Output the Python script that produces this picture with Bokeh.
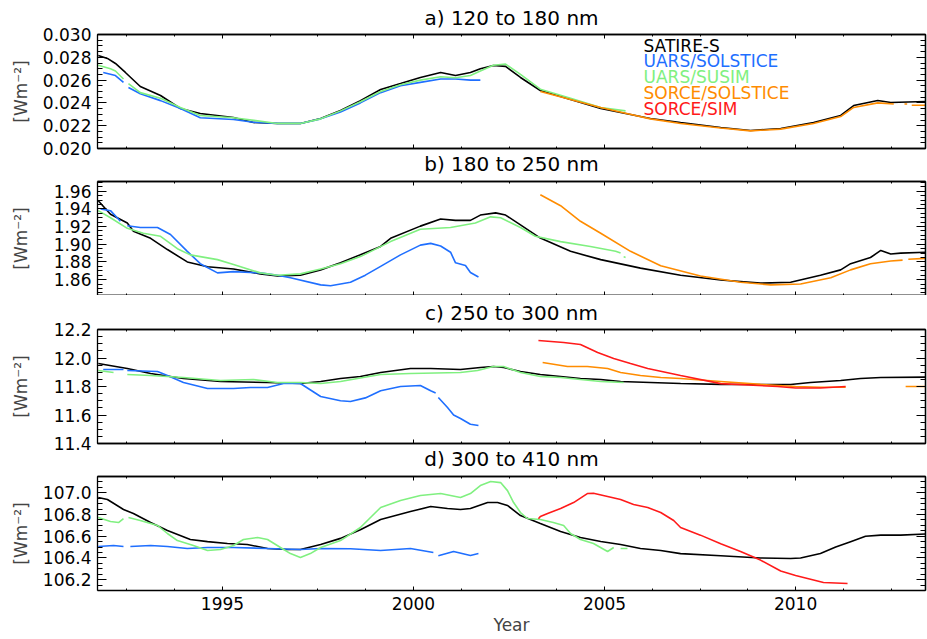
from bokeh.plotting import figure
from bokeh.models import (Range1d, LinearAxis, SingleIntervalTicker, FixedTicker, Label, Title,
                          PrintfTickFormatter)
from bokeh.layouts import column
from bokeh.embed import file_html
from bokeh.resources import INLINE

nan = float("nan")

FONT = "DejaVu Sans"
X_RANGE = (1991.73, 2013.40)
X_TICK_STEP = 5
X_MINOR_STEP = 1.25

NAMES = ["SATIRE-S", "UARS/SOLSTICE", "UARS/SUSIM", "SORCE/SOLSTICE", "SORCE/SIM"]
COLORS = ["#000000", "#1f6fff", "#80f080", "#ff8c00", "#ff1a1a"]

TITLES = ["a) 120 to 180 nm", "b) 180 to 250 nm", "c) 250 to 300 nm", "d) 300 to 410 nm"]
Y_RANGES = [(0.020, 0.030), (1.842, 1.971), (11.4, 12.2), (106.1, 107.15)]
Y_TICKS = [[0.020, 0.022, 0.024, 0.026, 0.028, 0.030],
           [1.86, 1.88, 1.90, 1.92, 1.94, 1.96],
           [11.4, 11.6, 11.8, 12.0, 12.2],
           [106.2, 106.4, 106.6, 106.8, 107.0]]
Y_MINOR_STEP = [0.0005, 0.005, 0.05, 0.05]
Y_FORMATS = ["%.3f", "%.2f", "%.1f", "%.1f"]

# ---------------- panel a: 120-180 nm ----------------
a_satire_x = [1991.75, 1991.99, 1992.20, 1992.46, 1992.85, 1993.38, 1993.90, 1994.42, 1995.29, 1995.81,
              1996.44, 1997.04, 1997.57, 1998.09, 1998.61, 1999.14, 1999.66, 2000.18, 2000.71, 2001.10,
              2001.49, 2001.75, 2002.09, 2002.41, 2002.80, 2003.32, 2004.11, 2004.90, 2005.55, 2006.20,
              2006.99, 2008.04, 2008.82, 2009.61, 2010.47, 2011.18, 2011.52, 2012.15, 2012.49, 2013.40]
a_satire_y = [0.02816, 0.02790, 0.02746, 0.02667, 0.02544, 0.02465, 0.02351, 0.02307, 0.02272, 0.02228,
              0.02219, 0.02219, 0.02263, 0.02333, 0.02420, 0.02518, 0.02570, 0.02623, 0.02667, 0.02640,
              0.02667, 0.02700, 0.02728, 0.02720, 0.02623, 0.02509, 0.02430, 0.02351, 0.02307, 0.02263,
              0.02228, 0.02184, 0.02158, 0.02175, 0.02228, 0.02290, 0.02377, 0.02421, 0.02404, 0.02412]

a_usol_x = [1991.88, 1992.20, 1992.41, 1992.46, 1992.54, 1992.85, 1993.38, 1993.90, 1994.42, 1995.29,
            1995.81, 1996.44, 1997.04, 1997.57, 1998.09, 1998.61, 1999.14, 1999.66, 2000.18, 2000.71,
            2001.10, 2001.49, 2001.75]
a_usol_y = [0.02667, 0.02640, 0.02580, nan, 0.02535, 0.02480, 0.02420, 0.02350, 0.02270, 0.02254,
            0.02230, 0.02220, 0.02220, 0.02260, 0.02320, 0.02400, 0.02490, 0.02550, 0.02580, 0.02610,
            0.02610, 0.02600, 0.02600]

a_susim_x = [1991.75, 1992.07, 1992.20, 1992.41, 1992.46, 1992.54, 1992.85, 1993.38, 1993.90, 1994.42,
             1995.29, 1996.44, 1997.04, 1997.57, 1998.09, 1998.61, 1999.14, 1999.66, 2000.18, 2000.71,
             2001.10, 2001.49, 2001.75, 2002.09, 2002.41, 2002.80, 2003.32, 2004.11, 2004.90, 2005.55]
a_susim_y = [0.02730, 0.02700, 0.02680, 0.02610, nan, 0.02570, 0.02490, 0.02440, 0.02360, 0.02290,
             0.02270, 0.02220, 0.02220, 0.02260, 0.02330, 0.02410, 0.02500, 0.02560, 0.02600, 0.02630,
             0.02620, 0.02640, 0.02680, 0.02730, 0.02740, 0.02650, 0.02520, 0.02440, 0.02360, 0.02330]

a_ssol_x = [2003.32, 2004.11, 2004.90, 2005.55, 2006.20, 2006.99, 2008.04, 2008.82, 2009.61, 2010.47,
            2011.18, 2011.52, 2012.15, 2012.57, 2012.70, 2012.85, 2012.92, 2012.98, 2013.04, 2013.40]
a_ssol_y = [0.02500, 0.02430, 0.02360, 0.02310, 0.02260, 0.02220, 0.02180, 0.02155, 0.02170, 0.02220,
            0.02280, 0.02360, 0.02400, 0.02390, nan, 0.02390, 0.02390, nan, 0.02380, 0.02380]

# ---------------- panel b: 180-250 nm ----------------
b_satire_x = [1991.75, 1992.07, 1992.51, 1992.67, 1993.12, 1993.56, 1994.08, 1994.61, 1995.29, 1995.99,
              1996.44, 1997.04, 1997.57, 1998.09, 1998.61, 1999.14, 1999.40, 2000.18, 2000.71, 2001.10,
              2001.49, 2001.75, 2002.15, 2002.41, 2002.80, 2003.32, 2004.11, 2004.90, 2005.94, 2006.99,
              2008.04, 2009.08, 2009.87, 2010.65, 2011.18, 2011.44, 2011.96, 2012.23, 2012.49, 2012.75,
              2013.40]
b_satire_y = [1.9493, 1.9340, 1.9240, 1.9148, 1.9067, 1.8940, 1.8800, 1.8745, 1.8720, 1.8665,
              1.8640, 1.8650, 1.8710, 1.8790, 1.8880, 1.8975, 1.9067, 1.9205, 1.9286, 1.9270,
              1.9270, 1.9330, 1.9355, 1.9330, 1.9220, 1.9070, 1.8920, 1.8826, 1.8730, 1.8650,
              1.8596, 1.8560, 1.8570, 1.8650, 1.8710, 1.8780, 1.8850, 1.8930, 1.8890, 1.8900,
              1.8910]

b_usol_x = [1991.81, 1992.07, 1992.33, 1992.46, 1992.51, 1992.85, 1993.30, 1993.64, 1994.08, 1994.42,
            1994.87, 1995.29, 1995.99, 1996.44, 1996.78, 1997.57, 1997.83, 1998.35, 1998.74, 1999.14,
            1999.66, 2000.18, 2000.45, 2000.71, 2000.97, 2001.10, 2001.36, 2001.49, 2001.70]
b_usol_y = [1.9400, 1.9380, 1.9260, nan, 1.9210, 1.9190, 1.9190, 1.9110, 1.8920, 1.8780,
            1.8676, 1.8690, 1.8676, 1.8650, 1.8620, 1.8540, 1.8530, 1.8570, 1.8650, 1.8750,
            1.8880, 1.8990, 1.9010, 1.8980, 1.8910, 1.8790, 1.8760, 1.8680, 1.8630]

b_susim_x = [1991.75, 1992.07, 1992.51, 1992.93, 1993.38, 1993.82, 1994.16, 1994.87, 1995.29, 1995.99,
             1996.44, 1997.04, 1997.57, 1998.09, 1998.61, 1999.40, 2000.18, 2000.97, 2001.62, 2002.02,
             2002.28, 2002.80, 2003.19, 2003.85, 2004.63, 2005.29, 2005.42, 2005.46, 2005.50, 2005.55]
b_susim_y = [1.9380, 1.9300, 1.9180, 1.9125, 1.9090, 1.8950, 1.8880, 1.8826, 1.8770, 1.8676,
             1.8650, 1.8665, 1.8720, 1.8780, 1.8860, 1.9030, 1.9170, 1.9190, 1.9240, 1.9310,
             1.9300, 1.9190, 1.9090, 1.9030, 1.8975, 1.8920, 1.8900, nan, 1.8860, 1.8850]

b_ssol_x = [2003.32, 2003.85, 2004.37, 2004.90, 2005.68, 2006.47, 2007.51, 2008.56, 2009.35, 2010.13,
            2010.92, 2011.44, 2011.96, 2012.49, 2012.80, 2012.88, 2012.95, 2013.40]
b_ssol_y = [1.9560, 1.9436, 1.9260, 1.9125, 1.8920, 1.8757, 1.8640, 1.8570, 1.8540, 1.8550,
            1.8620, 1.8710, 1.8780, 1.8810, 1.8820, nan, 1.8830, 1.8840]

# ---------------- panel c: 250-300 nm ----------------
c_satire_x = [1991.75, 1992.51, 1993.12, 1993.98, 1994.95, 1996.18, 1997.04, 1997.57, 1998.09, 1998.61,
              1999.14, 1999.92, 2000.45, 2001.23, 2001.75, 2002.09, 2002.36, 2002.80, 2003.32, 2003.85,
              2004.37, 2004.90, 2005.42, 2006.20, 2006.99, 2008.04, 2009.08, 2009.87, 2010.39, 2011.18,
              2011.70, 2012.23, 2013.40]
c_satire_y = [11.961, 11.926, 11.891, 11.856, 11.835, 11.828, 11.821, 11.835, 11.856, 11.870,
              11.898, 11.926, 11.926, 11.919, 11.933, 11.940, 11.933, 11.905, 11.884, 11.870,
              11.856, 11.849, 11.835, 11.828, 11.821, 11.815, 11.814, 11.814, 11.828, 11.842,
              11.856, 11.863, 11.866]

c_usol_x = [1991.88, 1992.41, 1992.46, 1992.51, 1993.30, 1993.56, 1993.98, 1994.61, 1995.29, 1995.73,
            1996.18, 1996.60, 1997.04, 1997.57, 1998.09, 1998.35, 1998.74, 1999.14, 1999.66, 2000.18,
            2000.45, 2000.58, 2000.61, 2000.65, 2000.89, 2001.05, 2001.23, 2001.49, 2001.70]
c_usol_y = [11.919, 11.919, nan, 11.912, 11.905, 11.877, 11.828, 11.786, 11.786, 11.793,
            11.793, 11.821, 11.821, 11.730, 11.700, 11.695, 11.720, 11.770, 11.800, 11.807,
            11.770, 11.755, nan, 11.723, 11.653, 11.600, 11.575, 11.535, 11.526]

c_susim_x = [1991.75, 1992.15, 1992.28, 1992.41, 1992.46, 1992.51, 1993.12, 1993.98, 1994.95, 1995.81,
             1996.44, 1997.04, 1997.57, 1998.09, 1998.61, 1999.14, 1999.92, 2001.23, 2001.68, 2002.09,
             2002.36, 2002.80, 2003.32, 2003.85, 2004.37, 2004.90, 2005.50]
c_susim_y = [11.912, 11.898, nan, 11.890, nan, 11.884, 11.877, 11.863, 11.842, 11.849,
             11.828, 11.828, 11.821, 11.835, 11.860, 11.884, 11.891, 11.898, 11.912, 11.940,
             11.940, 11.898, 11.870, 11.863, 11.849, 11.835, 11.828]

c_ssol_x = [2003.38, 2004.03, 2004.55, 2005.08, 2005.42, 2005.94, 2006.47, 2006.99, 2008.04, 2009.08,
            2010.00, 2010.65, 2011.31, 2011.40, 2012.88, 2013.40]
c_ssol_y = [11.968, 11.940, 11.940, 11.926, 11.898, 11.877, 11.863, 11.856, 11.835, 11.815,
            11.800, 11.795, 11.795, nan, 11.800, 11.800]

c_ssim_x = [2003.27, 2003.93, 2004.37, 2004.82, 2005.24, 2005.68, 2006.13, 2006.99, 2008.04, 2009.53,
            2010.00, 2010.65, 2011.31]
c_ssim_y = [12.123, 12.109, 12.095, 12.039, 11.996, 11.961, 11.926, 11.877, 11.820, 11.800,
            11.790, 11.790, 11.800]

# ---------------- panel d: 300-410 nm ----------------
d_satire_x = [1991.75, 1991.99, 1992.41, 1992.67, 1993.12, 1993.56, 1994.16, 1994.61, 1995.13, 1995.65,
              1996.18, 1996.70, 1997.04, 1997.57, 1998.09, 1998.61, 1999.14, 1999.92, 2000.45, 2000.89,
              2001.23, 2001.49, 2001.94, 2002.20, 2002.46, 2002.80, 2003.32, 2003.85, 2004.37, 2004.90,
              2005.42, 2005.94, 2006.47, 2006.99, 2008.04, 2009.08, 2009.87, 2010.13, 2010.65, 2011.05,
              2011.44, 2011.83, 2012.23, 2012.75, 2013.40]
d_satire_y = [106.956, 106.938, 106.846, 106.809, 106.726, 106.652, 106.570, 106.550, 106.533, 106.524,
              106.487, 106.478, 106.478, 106.524, 106.580, 106.660, 106.754, 106.827, 106.873, 106.855,
              106.846, 106.855, 106.910, 106.910, 106.883, 106.790, 106.717, 106.643, 106.588, 106.551,
              106.524, 106.487, 106.468, 106.440, 106.420, 106.400, 106.395, 106.400, 106.440, 106.500,
              106.550, 106.600, 106.610, 106.610, 106.620]

d_usol_x = [1991.75, 1992.15, 1992.41, 1992.50, 1992.59, 1993.12, 1993.56, 1994.08, 1994.61, 1995.29,
            1996.18, 1997.04, 1997.57, 1998.35, 1999.14, 1999.92, 2000.52, 2000.58, 2000.65, 2001.05,
            2001.49, 2001.70]
d_usol_y = [106.505, 106.514, 106.505, nan, 106.505, 106.514, 106.505, 106.487, 106.496, 106.496,
            106.487, 106.478, 106.487, 106.485, 106.468, 106.487, 106.450, nan, 106.420, 106.459,
            106.422, 106.440]

d_susim_x = [1991.75, 1992.07, 1992.28, 1992.41, 1992.48, 1992.54, 1992.85, 1993.30, 1993.56, 1993.82,
             1994.24, 1994.61, 1994.95, 1995.29, 1995.55, 1995.92, 1996.18, 1996.52, 1996.78, 1997.04,
             1997.30, 1997.57, 1998.09, 1998.61, 1999.14, 1999.66, 2000.18, 2000.71, 2000.97, 2001.23,
             2001.49, 2001.75, 2002.02, 2002.28, 2002.46, 2002.62, 2002.80, 2002.98, 2003.32, 2003.66,
             2003.93, 2004.11, 2004.37, 2004.71, 2005.08, 2005.24, 2005.33, 2005.42, 2005.60]
d_susim_y = [106.772, 106.735, 106.726, 106.763, nan, 106.772, 106.745, 106.699, 106.625, 106.560,
             106.514, 106.468, 106.478, 106.514, 106.570, 106.588, 106.570, 106.496, 106.440, 106.404,
             106.440, 106.496, 106.560, 106.680, 106.864, 106.929, 106.975, 106.993, 106.975, 106.956,
             106.993, 107.067, 107.104, 107.094, 107.020, 106.910, 106.818, 106.763, 106.754, 106.726,
             106.699, 106.625, 106.570, 106.533, 106.459, 106.496, nan, 106.487, 106.487]

d_ssim_x = [2003.27, 2003.32, 2003.51, 2003.85, 2004.19, 2004.55, 2004.71, 2005.08, 2005.42, 2005.76,
            2006.13, 2006.47, 2006.81, 2006.99, 2007.51, 2008.04, 2008.56, 2009.08, 2009.61, 2010.00,
            2010.73, 2011.36]
d_ssim_y = [106.760, 106.781, 106.809, 106.855, 106.910, 106.993, 106.995, 106.966, 106.938, 106.892,
            106.864, 106.818, 106.745, 106.680, 106.610, 106.530, 106.460, 106.380, 106.280, 106.238,
            106.174, 106.164]

PANELS = [
    [(a_satire_x, a_satire_y, 0), (a_usol_x, a_usol_y, 1), (a_susim_x, a_susim_y, 2), (a_ssol_x, a_ssol_y, 3)],
    [(b_satire_x, b_satire_y, 0), (b_usol_x, b_usol_y, 1), (b_susim_x, b_susim_y, 2), (b_ssol_x, b_ssol_y, 3)],
    [(c_satire_x, c_satire_y, 0), (c_usol_x, c_usol_y, 1), (c_susim_x, c_susim_y, 2), (c_ssol_x, c_ssol_y, 3),
     (c_ssim_x, c_ssim_y, 4)],
    [(d_satire_x, d_satire_y, 0), (d_usol_x, d_usol_y, 1), (d_susim_x, d_susim_y, 2), (d_ssim_x, d_ssim_y, 4)],
]

FRAME_H = 114
# panels a and c carry their own title above; the titles of b and d are placed below
# the panel above them, so that no figure edge cuts an edge tick label
TITLE_ABOVE = [0, None, 2, None]
TITLE_BELOW = [1, None, 3, None]
MIN_TOP = [34, 3, 34, 3]
MIN_BOTTOM = [30, 0, 30, 49]
YLABEL_STANDOFF = [9, 20, 20, 9]


def style_common(ax):
    ax.major_tick_out = 0
    ax.minor_tick_out = 0
    ax.axis_line_color = "black"
    ax.axis_line_width = 1.3
    ax.major_tick_line_color = "black"
    ax.minor_tick_line_color = "black"
    ax.major_tick_line_width = 1
    ax.minor_tick_line_width = 1


def labelled(ax):
    ax.major_label_text_font = FONT
    ax.major_label_text_font_size = "17px"
    ax.major_label_text_color = "black"
    ax.major_label_standoff = 6


def steps(lo, hi, step):
    first = int(round(lo / step)) - 1
    n = int(round((hi - lo) / step)) + 3
    return [(first + j) * step for j in range(n) if lo - 1e-9 <= (first + j) * step <= hi + 1e-9]


x_minor_ticks = steps(X_RANGE[0], X_RANGE[1], X_MINOR_STEP)
x_major_ticks = steps(X_RANGE[0], X_RANGE[1], X_TICK_STEP)


def tick_only_axis(ax, positions, length):
    # an axis that draws only tick marks of one length (no labels, takes no room)
    ax.ticker = FixedTicker(ticks=[], minor_ticks=positions)
    style_common(ax)
    ax.minor_tick_in = length
    ax.major_label_standoff = 0


def make_title(k, standoff):
    return Title(text=TITLES[k], align="center", vertical_align="middle", text_font=FONT,
                 text_font_size="20px", text_font_style="normal", text_color="black",
                 standoff=standoff)


figs = []
for i in range(4):
    last = i == 3
    lo, hi = Y_RANGES[i]
    p = figure(frame_width=828, frame_height=FRAME_H,
               x_range=Range1d(*X_RANGE), y_range=Range1d(lo, hi),
               output_backend="svg", toolbar_location=None,
               min_border_left=97, min_border_right=2,
               min_border_top=MIN_TOP[i], min_border_bottom=MIN_BOTTOM[i],
               background_fill_color="white", border_fill_color="white")
    p.outline_line_color = None
    p.grid.visible = False
    if TITLE_ABOVE[i] is not None:
        p.title = make_title(TITLE_ABOVE[i], 8)
    else:
        p.title = None

    y_minors = steps(lo, hi, Y_MINOR_STEP[i])

    xb = p.xaxis[0]
    if last:
        xb.ticker = SingleIntervalTicker(interval=X_TICK_STEP, num_minor_ticks=4)
        style_common(xb)
        xb.major_tick_in = 4
        xb.minor_tick_in = 2
        labelled(xb)
        xb.axis_label = "Year"
        xb.axis_label_text_font = FONT
        xb.axis_label_text_font_size = "17px"
        xb.axis_label_text_font_style = "normal"
        xb.axis_label_standoff = 2
    else:
        tick_only_axis(xb, x_minor_ticks, 2)
        xb2 = LinearAxis()
        tick_only_axis(xb2, x_major_ticks, 4)
        p.add_layout(xb2, "below")

    if TITLE_BELOW[i] is not None:
        p.add_layout(make_title(TITLE_BELOW[i], 4), "below")

    yl = p.yaxis[0]
    yl.ticker = FixedTicker(ticks=Y_TICKS[i], minor_ticks=y_minors)
    yl.formatter = PrintfTickFormatter(format=Y_FORMATS[i])
    style_common(yl)
    yl.major_tick_in = 9
    yl.minor_tick_in = 5
    labelled(yl)
    yl.axis_label = "[Wm\u207b\u00b2]"
    yl.axis_label_text_font = FONT
    yl.axis_label_text_font_size = "17px"
    yl.axis_label_text_font_style = "normal"
    yl.axis_label_standoff = YLABEL_STANDOFF[i]

    for positions, length in ((x_minor_ticks, 2), (x_major_ticks, 4)):
        xa = LinearAxis()
        tick_only_axis(xa, positions, length)
        p.add_layout(xa, "above")
    for positions, length in ((y_minors, 5), (Y_TICKS[i], 9)):
        yr = LinearAxis()
        tick_only_axis(yr, positions, length)
        p.add_layout(yr, "right")

    for xs, ys, k in PANELS[i]:
        p.line(xs, ys, line_color=COLORS[k], line_width=1.6)

    if i == 0:
        for k, name in enumerate(NAMES):
            p.add_layout(Label(x=546, y=103 - 15.75 * k, x_units="screen", y_units="screen",
                               text=name, text_color=COLORS[k], text_font=FONT,
                               text_font_size="17px", text_baseline="middle", text_align="left"))
    figs.append(p)

layout = column(*figs, spacing=0)
open("out.html", "w").write(file_html(layout, INLINE))
